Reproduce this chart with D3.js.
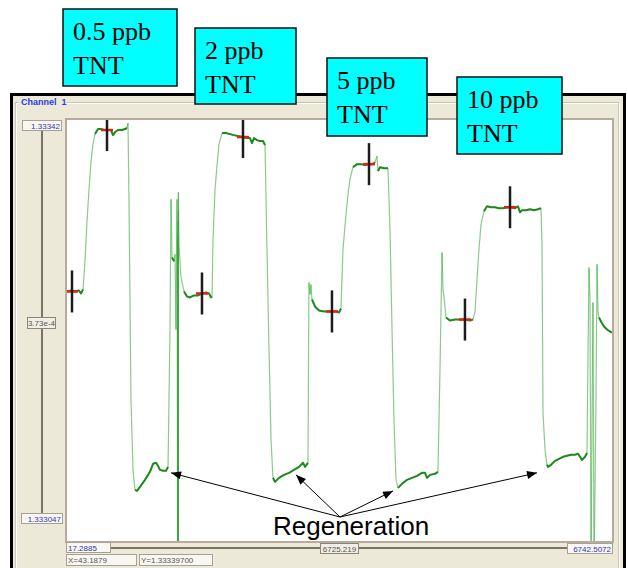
<!DOCTYPE html>
<html>
<head>
<meta charset="utf-8">
<script src="https://cdn.jsdelivr.net/npm/d3@7"></script>
<style>
  body { margin: 0; background: #fff; }
  svg { display: block; }
  .serif { font-family: "Liberation Serif", "Times New Roman", serif; }
</style>
</head>
<body>
<svg id="graph"></svg>
<script>
/* global d3 */

// sensorgram: [time (s), refractive index]
const trace = [
  [17, 1.3332681], [67, 1.3332690], [116, 1.3332681], [165, 1.3332690], [190, 1.3332663],
  [215, 1.3332699], [239, 1.3332948], [264, 1.3333303], [289, 1.3333587], [313, 1.3333827],
  [338, 1.3333986], [363, 1.3334075], [400, 1.3334120], [437, 1.3334120], [474, 1.3334111],
  [523, 1.3334111], [560, 1.3334111], [585, 1.3334066], [610, 1.3334093], [647, 1.3334111],
  [696, 1.3334111], [733, 1.3334120], [758, 1.3334129], [770, 1.3334173], [782, 1.3333498],
  [807, 1.3331722], [832, 1.3331100], [856, 1.3330923], [881, 1.3330914], [918, 1.3330950],
  [980, 1.3331012], [1041, 1.3331083], [1079, 1.3331154], [1116, 1.3331163], [1140, 1.3331136],
  [1165, 1.3331100], [1202, 1.3331092], [1239, 1.3331092], [1264, 1.3331127],
  [1288, 1.3332344], [1301, 1.3333498], [1313, 1.3332983], [1338, 1.3332948], [1350, 1.3333010],
  [1362, 1.3332344], [1375, 1.3333498], [1383, 1.3330200], [1384, 1.3333170], [1385, 1.3330200],
  [1386, 1.3333300], [1387, 1.3330200], [1388, 1.3333170], [1389, 1.3330200], [1390, 1.3333400],
  [1391, 1.3330200], [1392, 1.3333560], [1399, 1.3333098], [1424, 1.3332805], [1461, 1.3332681],
  [1498, 1.3332637], [1535, 1.3332628], [1584, 1.3332646], [1634, 1.3332646], [1683, 1.3332663],
  [1733, 1.3332672], [1770, 1.3332663], [1794, 1.3332628],
  [1807, 1.3332637], [1819, 1.3333143], [1844, 1.3333587], [1868, 1.3333791], [1893, 1.3333986],
  [1930, 1.3334084], [1979, 1.3334084], [2029, 1.3334075], [2078, 1.3334066], [2127, 1.3334058],
  [2189, 1.3334049], [2239, 1.3334040], [2275, 1.3334040], [2300, 1.3333995], [2325, 1.3334040],
  [2362, 1.3334022], [2399, 1.3334013], [2436, 1.3334013], [2461, 1.3333978], [2485, 1.3333054],
  [2510, 1.3332166], [2535, 1.3331367], [2559, 1.3331029], [2584, 1.3330994], [2633, 1.3331029],
  [2695, 1.3331056], [2757, 1.3331074], [2818, 1.3331100], [2880, 1.3331127], [2930, 1.3331163],
  [2954, 1.3331127], [2991, 1.3331163],
  [3003, 1.3332761], [3016, 1.3332654], [3028, 1.3332743], [3040, 1.3332610], [3077, 1.3332548],
  [3127, 1.3332512], [3189, 1.3332504], [3238, 1.3332504], [3287, 1.3332504], [3337, 1.3332504],
  [3374, 1.3332495], [3398, 1.3332530],
  [3423, 1.3333054], [3460, 1.3333365], [3485, 1.3333542], [3509, 1.3333676], [3546, 1.3333782],
  [3596, 1.3333809], [3645, 1.3333809], [3694, 1.3333800], [3744, 1.3333809], [3793, 1.3333809],
  [3818, 1.3333827], [3842, 1.3333880], [3855, 1.3333747], [3879, 1.3333782], [3929, 1.3333773],
  [3978, 1.3333773], [4003, 1.3333232], [4028, 1.3332344], [4052, 1.3331544], [4077, 1.3331012],
  [4102, 1.3330941], [4151, 1.3330976], [4213, 1.3331012], [4274, 1.3331029], [4336, 1.3331047],
  [4398, 1.3331074], [4435, 1.3331074], [4460, 1.3331029], [4497, 1.3331056], [4558, 1.3331065],
  [4595, 1.3331083],
  [4620, 1.3331988], [4645, 1.3333027], [4657, 1.3332699], [4669, 1.3332637], [4694, 1.3332450],
  [4743, 1.3332424], [4805, 1.3332432], [4867, 1.3332432], [4928, 1.3332432], [4990, 1.3332424],
  [5027, 1.3332432],
  [5052, 1.3332504], [5077, 1.3332788], [5101, 1.3333054], [5126, 1.3333276], [5163, 1.3333392],
  [5200, 1.3333436], [5249, 1.3333427], [5299, 1.3333427], [5348, 1.3333418], [5397, 1.3333418],
  [5447, 1.3333427], [5496, 1.3333427], [5546, 1.3333418], [5582, 1.3333436], [5607, 1.3333383],
  [5632, 1.3333400], [5681, 1.3333400], [5731, 1.3333409], [5780, 1.3333400], [5829, 1.3333409],
  [5866, 1.3333418], [5879, 1.3333081], [5891, 1.3331607], [5916, 1.3331278], [5940, 1.3331145],
  [5953, 1.3331127], [5990, 1.3331145], [6039, 1.3331180], [6089, 1.3331198], [6138, 1.3331216],
  [6187, 1.3331225], [6237, 1.3331234], [6286, 1.3331234], [6323, 1.3331243], [6348, 1.3331216],
  [6373, 1.3331189], [6410, 1.3331216], [6434, 1.3331251],
  [6447, 1.3332166], [6459, 1.3332894], [6471, 1.3332610], [6484, 1.3330200], [6496, 1.3331544],
  [6508, 1.3332583], [6521, 1.3330200], [6545, 1.3331722], [6558, 1.3332921], [6570, 1.3332495],
  [6582, 1.3332450], [6607, 1.3332415], [6644, 1.3332370], [6681, 1.3332344], [6718, 1.3332326],
  [6743, 1.3332317]
]

// reference points picked on each baseline / plateau
const markerTimes = [79, 511, 1683, 2189, 3287, 3744, 4928, 5484]
const markerRI = [1.3332681, 1.3334111, 1.3332663, 1.3334049, 1.3332504, 1.3333809, 1.3332432, 1.3333427]

// bottoms of the regeneration steps the arrows point at
const regenTimes = [1301, 2843, 4040, 5817]
const regenRI = [1.3331074, 1.3331056, 1.3330914, 1.3331074]

const concentrations = ['0.5 ppb', '2 ppb', '5 ppb', '10 ppb']
const analyte = 'TNT'
const channelName = 'Channel  1'
const xExtent = [17.2885, 6742.5072]
const yExtent = [1.333047, 1.33342]
const cursor = { x: 43.1879, y: 1.333397 }

const width = 628
const height = 568

const colours = {
  panel: '#ece9d8',
  frame: '#b9ab99',
  axisLine: '#7b7465',
  valueText: '#3434b8',
  greyText: '#555555',
  light: '#3aa83a',
  dark: '#1e8a1e',
  red: '#e8200c',
  cyan: '#00ffff'
}

const svg = d3.select('#graph')
  .attr('width', width)
  .attr('height', height)
  .style('font-family', 'Arial, "Liberation Sans", sans-serif')

const plot = { left: 67, top: 120, right: 612, bottom: 541 }

const x = d3.scaleLinear().domain(xExtent).range([plot.left, plot.right])
const y = d3.scaleLinear().domain(yExtent).range([plot.bottom, plot.top])

// window chrome
svg.append('rect')
  .attr('x', 11.5).attr('y', 94.5).attr('width', 613).attr('height', 490)
  .attr('fill', colours.panel).attr('stroke', '#000').attr('stroke-width', 3)

svg.append('rect')
  .attr('x', 16.5).attr('y', 103.5).attr('width', 603).attr('height', 480)
  .attr('fill', 'none').attr('stroke', '#fff')
svg.append('rect')
  .attr('x', 15.5).attr('y', 102.5).attr('width', 603).attr('height', 480)
  .attr('fill', 'none').attr('stroke', '#c8c4b2')

svg.append('rect')
  .attr('x', 19).attr('y', 97).attr('width', 48).attr('height', 10)
  .attr('fill', colours.panel)
svg.append('text')
  .attr('x', 21).attr('y', 105)
  .attr('font-size', 9).attr('font-weight', 'bold')
  .attr('fill', '#2b3be6')
  .style('white-space', 'pre')
  .text(channelName)

// plot area
svg.append('rect')
  .attr('x', plot.left - 1).attr('y', plot.top - 1)
  .attr('width', plot.right - plot.left + 2).attr('height', plot.bottom - plot.top + 2)
  .attr('fill', '#fff').attr('stroke', colours.frame).attr('stroke-width', 2)

svg.append('clipPath').attr('id', 'clip')
  .append('rect')
  .attr('x', plot.left).attr('y', plot.top)
  .attr('width', plot.right - plot.left).attr('height', plot.bottom - plot.top)

const plotG = svg.append('g').attr('clip-path', 'url(#clip)')

const line = d3.line().x(d => x(d[0])).y(d => y(d[1]))

// one segment per sample pair so that repeated spikes build up colour
plotG.selectAll('line.seg')
  .data(d3.pairs(trace))
  .enter()
  .append('line')
  .attr('class', 'seg')
  .attr('x1', d => x(d[0][0])).attr('y1', d => y(d[0][1]))
  .attr('x2', d => x(d[1][0])).attr('y2', d => y(d[1][1]))
  .attr('stroke', colours.light)
  .attr('stroke-width', 1.2)
  .attr('stroke-opacity', 0.6)

// flat stretches are drawn heavier, like the dense noisy data in the original
const runs = []
let cur = null
for (let i = 1; i < trace.length; i++) {
  const dx = Math.abs(x(trace[i][0]) - x(trace[i - 1][0]))
  const dy = Math.abs(y(trace[i][1]) - y(trace[i - 1][1]))
  if (dx > 0 && dy <= 3 * dx) {
    if (!cur) { cur = [trace[i - 1]]; runs.push(cur) }
    cur.push(trace[i])
  } else {
    cur = null
  }
}
plotG.selectAll('path.run')
  .data(runs)
  .enter()
  .append('path')
  .attr('class', 'run')
  .attr('d', line)
  .attr('fill', 'none')
  .attr('stroke', colours.dark)
  .attr('stroke-width', 2)
  .attr('stroke-linejoin', 'round')

// cursor crosses
const markers = markerTimes.map((t, i) => [t, markerRI[i]])
plotG.selectAll('line.red')
  .data(markers)
  .enter()
  .append('line')
  .attr('class', 'red')
  .attr('x1', d => x(d[0]) - 6).attr('x2', d => x(d[0]) + 6)
  .attr('y1', d => y(d[1])).attr('y2', d => y(d[1]))
  .attr('stroke', colours.red).attr('stroke-width', 2.5)
plotG.selectAll('line.bar')
  .data(markers)
  .enter()
  .append('line')
  .attr('class', 'bar')
  .attr('x1', d => x(d[0])).attr('x2', d => x(d[0]))
  .attr('y1', d => y(d[1]) - 21).attr('y2', d => y(d[1]) + 21)
  .attr('stroke', '#1c1c1c').attr('stroke-width', 2.5)

// value boxes around the plot
const valueBox = (bx, by, w, h, text, anchor, colour, raised) => {
  svg.append('rect')
    .attr('x', bx + 0.5).attr('y', by + 0.5).attr('width', w).attr('height', h)
    .attr('fill', raised ? '#f1efe4' : '#f8f7f1')
    .attr('stroke', raised ? '#8d8677' : '#a8a090')
  const tx = anchor === 'end' ? bx + w - 1 : anchor === 'middle' ? bx + w / 2 + 0.5 : bx + 2
  svg.append('text')
    .attr('x', tx).attr('y', by + h / 2 + 3.5)
    .attr('text-anchor', anchor)
    .attr('font-size', 8)
    .attr('fill', colour)
    .text(text)
}

svg.append('line')
  .attr('x1', 42).attr('x2', 42).attr('y1', 130).attr('y2', 514)
  .attr('stroke', colours.axisLine).attr('stroke-width', 2)

valueBox(22, 120, 39, 10, String(yExtent[1]), 'end', colours.valueText, false)
valueBox(27, 317, 28, 11, d3.format('.2e')(yExtent[1] - yExtent[0]), 'middle', colours.greyText, true)
valueBox(21, 513, 41, 10, String(yExtent[0]), 'end', colours.valueText, false)

svg.append('line')
  .attr('x1', 111).attr('x2', 568).attr('y1', 548).attr('y2', 548)
  .attr('stroke', colours.axisLine).attr('stroke-width', 2)

valueBox(66, 542, 44, 10, String(xExtent[0]), 'start', colours.valueText, false)
valueBox(320, 543, 38, 10, d3.format('.3f')(xExtent[1] - xExtent[0]), 'middle', colours.greyText, true)
valueBox(567, 543, 45, 10, String(xExtent[1]), 'end', colours.valueText, false)
valueBox(66, 554, 70, 11, 'X=' + cursor.x, 'start', colours.greyText, false)
valueBox(139, 554, 73, 11, 'Y=' + cursor.y.toFixed(8), 'start', colours.greyText, false)

// regeneration arrows
svg.append('defs').append('marker')
  .attr('id', 'head')
  .attr('viewBox', '0 0 10 8')
  .attr('refX', 10).attr('refY', 4)
  .attr('markerWidth', 11).attr('markerHeight', 8)
  .attr('markerUnits', 'userSpaceOnUse')
  .attr('orient', 'auto')
  .append('path')
  .attr('d', 'M0,0L10,4L0,8Z')
  .attr('fill', '#000')

const hub = { x: 340, y: 517 }
svg.selectAll('line.arrow')
  .data(regenTimes.map((t, i) => [t, regenRI[i]]))
  .enter()
  .append('line')
  .attr('class', 'arrow')
  .attr('x1', hub.x).attr('y1', hub.y)
  .attr('x2', d => x(d[0])).attr('y2', d => y(d[1]))
  .attr('stroke', '#000').attr('stroke-width', 1)
  .attr('marker-end', 'url(#head)')

svg.append('text')
  .attr('x', 273).attr('y', 535)
  .attr('font-size', 26)
  .attr('fill', '#000')
  .text('Regeneration')

// concentration labels
const labelBoxes = [
  { x: 63, y: 9, w: 114, h: 77 },
  { x: 195, y: 28, w: 101, h: 76 },
  { x: 327, y: 58, w: 100, h: 78 },
  { x: 457, y: 77, w: 105, h: 77 }
]

const labels = svg.selectAll('g.label')
  .data(concentrations)
  .enter()
  .append('g')
  .attr('class', 'label')
  .attr('transform', (d, i) => `translate(${labelBoxes[i].x},${labelBoxes[i].y})`)

labels.append('rect')
  .attr('width', (d, i) => labelBoxes[i].w)
  .attr('height', (d, i) => labelBoxes[i].h)
  .attr('fill', colours.cyan)
  .attr('stroke', '#111')
  .attr('stroke-width', 1.5)

labels.append('text')
  .attr('class', 'serif')
  .attr('x', 10).attr('y', 31)
  .attr('font-size', 26)
  .text(d => d)

labels.append('text')
  .attr('class', 'serif')
  .attr('x', 10).attr('y', 65)
  .attr('font-size', 26)
  .text(analyte)
</script>
</body>
</html>
